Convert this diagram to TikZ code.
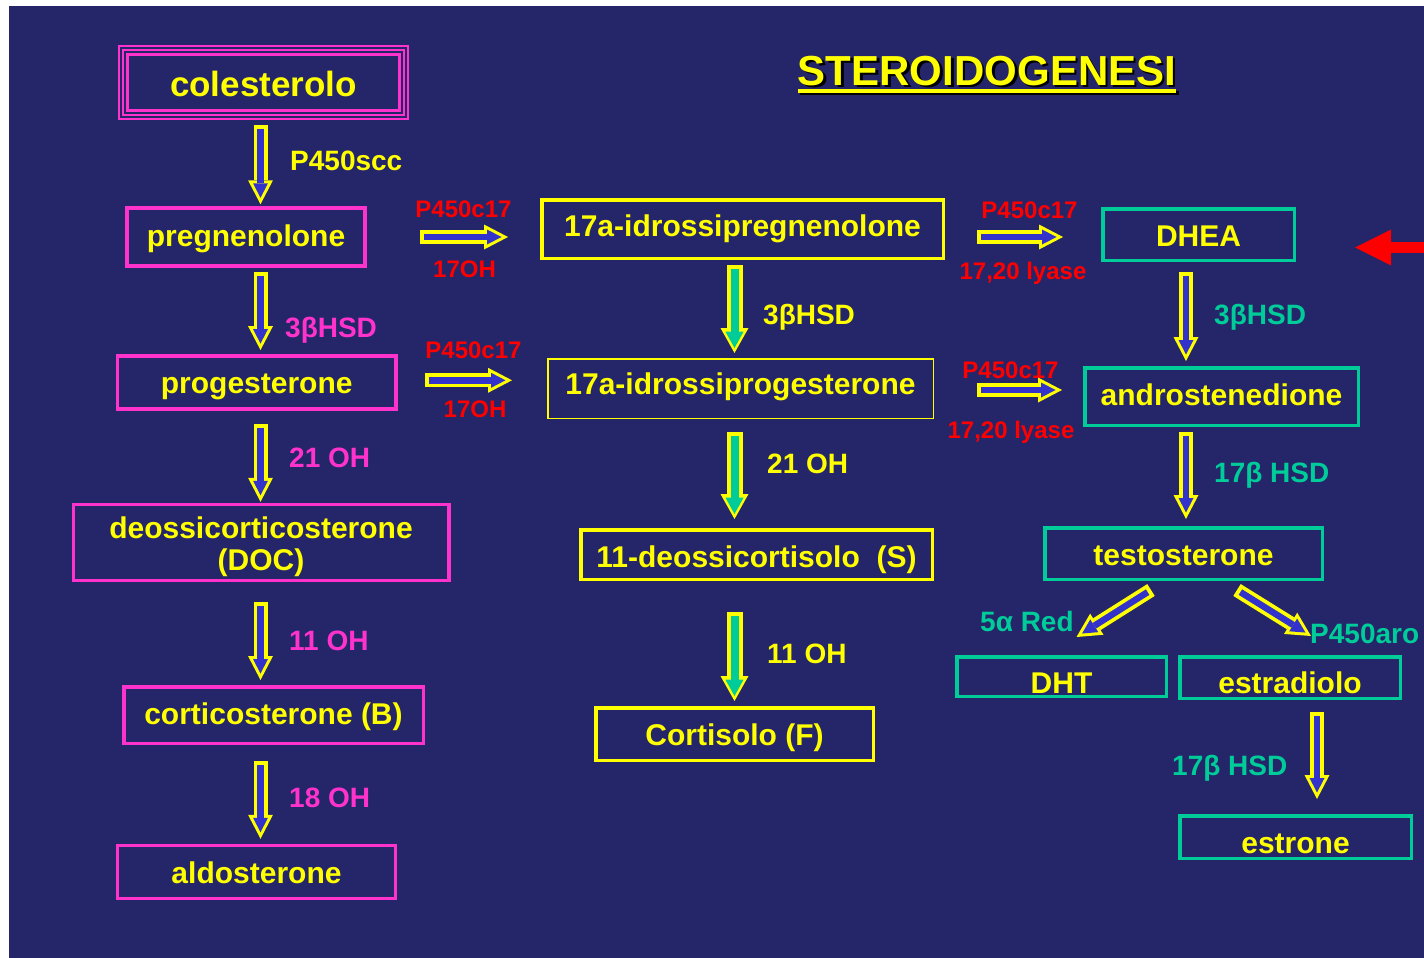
\documentclass[tikz,border=0pt]{standalone}
\usepackage{fontspec}
\setmainfont{Liberation Sans}
\usepackage{tikz}
\usetikzlibrary{arrows.meta}
\usetikzlibrary{calc}

\definecolor{bgmork}{RGB}{37,37,106}
\definecolor{bglys}{RGB}{54,54,160}
\definecolor{rosa}{RGB}{255,51,204}
\definecolor{gul}{RGB}{255,255,0}
\definecolor{turkis}{RGB}{0,204,153}
\definecolor{pilbla}{RGB}{51,51,204}
\definecolor{rod}{RGB}{255,0,0}

\begin{document}
\begin{tikzpicture}[x=1pt, y=-1pt,
	boks/.style={draw, line width=3.5pt, inner sep=0pt, text=gul, font=\fontsize{30}{31}\selectfont\bfseries, text height=21.6pt, text depth=6.3pt},
	rosaboks/.style={boks, draw=rosa},
	gulboks/.style={boks, draw=gul},
	turkisboks/.style={boks, draw=turkis},
	etikett/.style={anchor=base west, inner sep=0pt, font=\fontsize{28}{30}\selectfont\bfseries},
	rodtekst/.style={anchor=base, inner sep=0pt, text=rod, font=\fontsize{24}{26}\selectfont\bfseries},
	pil/.style={draw=pilbla, line width=6.5pt, -{Triangle[length=14.5pt, width=15pt, line width=0pt]}, shorten <=4pt, shorten >=6.5pt,
		preaction={draw=gul, line width=14pt, -{Triangle[length=24pt, width=25pt, line width=0pt]}, shorten <=0pt, shorten >=0pt}},
	gpil/.style={draw=turkis, line width=8pt, -{Triangle[length=16.3pt, width=18pt, line width=0pt]}, shorten <=4pt, shorten >=5pt,
		preaction={draw=gul, line width=16pt, -{Triangle[length=25pt, width=28pt, line width=0pt]}, shorten <=0pt, shorten >=0pt}},
	rodpil/.style={draw=rod, line width=11pt, -{Triangle[length=36pt, width=36pt, line width=0pt]}}]

	\useasboundingbox (0,0) rectangle (1424,958);
	\fill[white] (0,0) rectangle (1424,958);
	\shade[top color=bgmork, middle color=bglys, bottom color=bgmork] (9,7) rectangle (1424,958);

	%Tittelen her
	\node[anchor=base, inner sep=0pt, text=black, font=\fontsize{42}{44}\selectfont\bfseries] (skygge) at (989.5,87.5) {STEROIDOGENESI};
	\node[anchor=base, inner sep=0pt, text=gul, font=\fontsize{42}{44}\selectfont\bfseries] (tittel) at (987,85.5) {STEROIDOGENESI};
	\draw[black, line width=3.5pt] ($(skygge.base west)+(0,5.5)$) -- ($(skygge.base east)+(0,5.5)$);
	\draw[gul, line width=3.5pt] ($(tittel.base west)+(0,5.5)$) -- ($(tittel.base east)+(0,5.5)$);

	%Boksene her
	\node[rosaboks, line width=3pt, font=\fontsize{35}{36}\selectfont\bfseries, text height=25.2pt, text depth=7.4pt, minimum width=272pt, minimum height=56pt] (chol) at (263.5,82.5) {\raisebox{-5pt}{colesterolo}};
	\draw[rosa, line width=1.5pt, double=bgmork, double distance=2.5pt] ($(chol.north west)+(-5,-5)$) rectangle ($(chol.south east)+(5,5)$);
	\node[rosaboks, minimum width=238pt, minimum height=58pt] (preg) at (246,237) {\raisebox{-2pt}{pregnenolone}};
	\node[rosaboks, minimum width=278.5pt, minimum height=53pt] (prog) at (256.7,382.3) {\raisebox{-4pt}{progesterone}};
	\node[rosaboks, minimum width=375.5pt, minimum height=76pt] (doc) at (261,542.5) {\raisebox{12pt}{\begin{tabular}[t]{@{}c@{}}deossicorticosterone\\[1pt](DOC)\end{tabular}}};
	\node[rosaboks, minimum width=299.5pt, minimum height=56.5pt] (cort) at (273.5,715) {\raisebox{-2pt}{corticosterone (B)}};
	\node[rosaboks, minimum width=278pt, minimum height=53pt] (aldo) at (256.5,872) {\raisebox{-4pt}{aldosterone}};

	\node[gulboks, minimum width=401.5pt, minimum height=58.5pt] (m1) at (742.5,229) {17a-idrossipregnenolone};
	\node[gulboks, line width=1.5pt, minimum width=385.5pt, minimum height=59.5pt] (m2) at (740.5,388.5) {\raisebox{2pt}{17a-idrossiprogesterone}};
	\node[gulboks, minimum width=351.5pt, minimum height=49.5pt] (m3) at (756.5,554.5) {\raisebox{-5pt}{11-deossicortisolo\ \ (S)}};
	\node[gulboks, minimum width=277.5pt, minimum height=52.5pt] (m4) at (734.5,734) {\raisebox{-4pt}{Cortisolo (F)}};

	\node[turkisboks, minimum width=191.5pt, minimum height=51.5pt] (dhea) at (1198.5,234.5) {\raisebox{-4pt}{DHEA}};
	\node[turkisboks, minimum width=273.5pt, minimum height=57.5pt] (andro) at (1221.5,396.5) {\raisebox{-1pt}{androstenedione}};
	\node[turkisboks, minimum width=277.5pt, minimum height=51.5pt] (testo) at (1183.5,553.5) {\raisebox{-4pt}{testosterone}};
	\node[turkisboks, minimum width=209.5pt, minimum height=39.5pt] (dht) at (1061.5,676.5) {\raisebox{-9.5pt}{DHT}};
	\node[turkisboks, minimum width=220.5pt, minimum height=41.5pt] (estr) at (1290,677.5) {\raisebox{-8.5pt}{estradiolo}};
	\node[turkisboks, minimum width=231.5pt, minimum height=42.5pt] (estrone) at (1295.5,837) {\raisebox{-9pt}{estrone}};

	%Enzymene her
	\node[etikett, text=gul] (scc) at (290,170) {P450scc};
	\node[etikett, text=rosa] (hsdA) at (285,337) {3βHSD};
	\node[etikett, text=rosa] (ohA) at (289,467) {21 OH};
	\node[etikett, text=rosa] (ohB) at (289,650) {11 OH};
	\node[etikett, text=rosa] (ohC) at (289,807) {18 OH};
	\node[etikett, text=gul] (hsdB) at (763,324) {3βHSD};
	\node[etikett, text=gul] (ohD) at (767,473) {21 OH};
	\node[etikett, text=gul] (ohE) at (767,663) {11 OH};
	\node[etikett, text=turkis] (hsdC) at (1214,324) {3βHSD};
	\node[etikett, text=turkis] (hsdD) at (1214,482) {17β HSD};
	\node[etikett, text=turkis] (red) at (980,631) {5α Red};
	\node[etikett, text=turkis] (aro) at (1310,643) {P450aro};
	\node[etikett, text=turkis] (hsdE) at (1172,775) {17β HSD};

	\node[rodtekst] (cA) at (463.5,217.5) {P450c17};
	\node[rodtekst] (oA) at (464.5,277) {17OH};
	\node[rodtekst] (cB) at (473.5,358) {P450c17};
	\node[rodtekst] (oB) at (475,417) {17OH};
	\node[rodtekst] (cC) at (1029.5,218) {P450c17};
	\node[rodtekst] (lyA) at (1023,279) {17,20 lyase};
	\node[rodtekst] (cD) at (1010.5,378) {P450c17};
	\node[rodtekst] (lyB) at (1011,438) {17,20 lyase};

	%Pilene her
	\coordinate (kolA) at (260.5,0);
	\coordinate (kolB) at (734.5,0);
	\coordinate (kolC) at (1186,0);
	\coordinate (kolD) at (1317,0);
	\coordinate (rodstart) at (1424,247.5);

	\draw[pil] ($(chol.south -| kolA)+(0,13)$) -- ($(preg.north -| kolA)+(0,-2)$);
	\draw[pil] ($(preg.south -| kolA)+(0,4)$) -- ($(prog.north -| kolA)+(0,-4)$);
	\draw[pil] ($(prog.south -| kolA)+(0,13.5)$) -- ($(doc.north -| kolA)+(0,-1)$);
	\draw[pil] ($(doc.south -| kolA)+(0,20)$) -- ($(cort.north -| kolA)+(0,-5)$);
	\draw[pil] ($(cort.south -| kolA)+(0,16)$) -- ($(aldo.north -| kolA)+(0,-5)$);

	\draw[gpil] ($(m1.south -| kolB)+(0,5)$) -- ($(m2.north -| kolB)+(0,-5)$);
	\draw[gpil] ($(m2.south -| kolB)+(0,13)$) -- ($(m3.north -| kolB)+(0,-9)$);
	\draw[gpil] ($(m3.south -| kolB)+(0,31)$) -- ($(m4.north -| kolB)+(0,-5)$);

	\draw[pil] ($(preg.east)+(53,0)$) -- ($(m1.west |- preg.east)+(-32,0)$);
	\draw[pil] ($(prog.east)+(27,-2)$) -- ($(m2.west |- prog.east)+(-35,-2)$);
	\draw[pil] ($(m1.east |- dhea.west)+(32,2.5)$) -- ($(dhea.west)+(-38,2.5)$);
	\draw[pil] ($(m2.east)+(43,1.5)$) -- ($(andro.west |- m2.east)+(-21,1.5)$);

	\draw[pil] ($(dhea.south -| kolC)+(0,10)$) -- ($(andro.north -| kolC)+(0,-5)$);
	\draw[pil] ($(andro.south -| kolC)+(0,5)$) -- ($(testo.north -| kolC)+(0,-7)$);
	\draw[pil] ($(testo.south)+(-32.5,9)$) -- ($(dht.north)+(15,-18)$);
	\draw[pil] ($(testo.south)+(53.5,9)$) -- ($(estr.north)+(21,-19)$);
	\draw[pil] ($(estr.south -| kolD)+(0,12)$) -- ($(estrone.north -| kolD)+(0,-15)$);

	\draw[rodpil] (rodstart) -- ($(dhea.east |- rodstart)+(59,0)$);

\end{tikzpicture}
\end{document}
